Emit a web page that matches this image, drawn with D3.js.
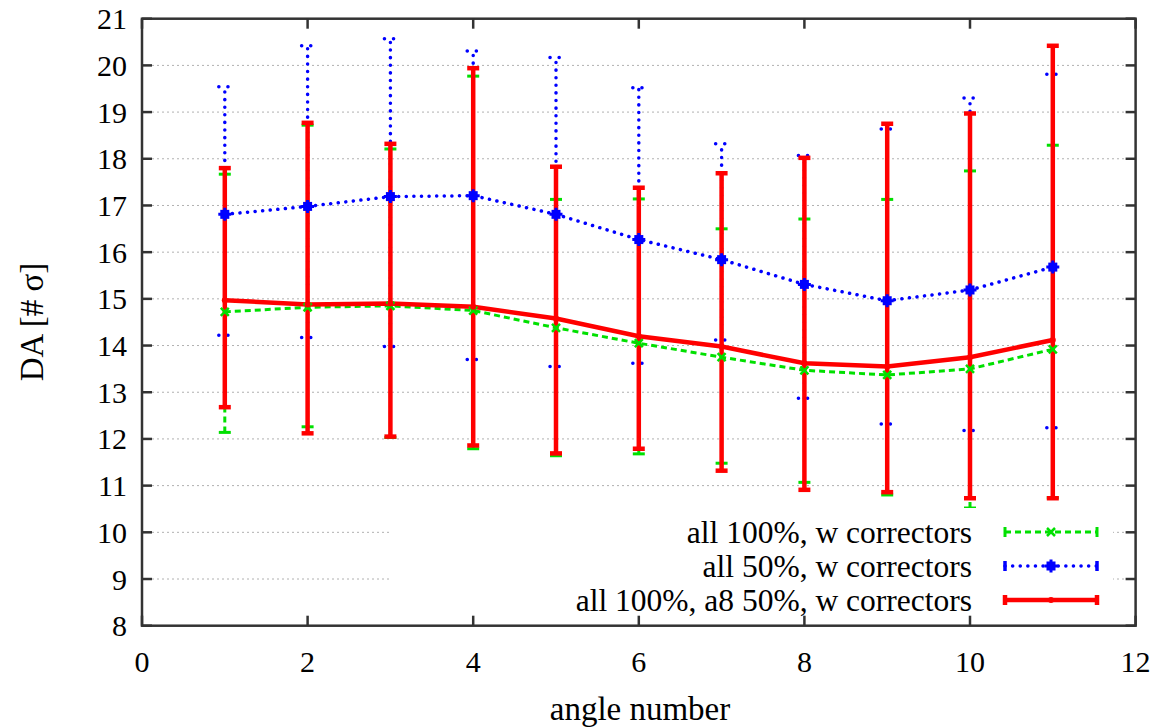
<!DOCTYPE html>
<html>
<head>
<meta charset="utf-8">
<script src="https://cdn.jsdelivr.net/npm/d3@7"></script>
<style>
  body { margin: 0; background: #fff; }
  text { font-family: "Liberation Serif", "DejaVu Serif", serif; fill: #000; }
</style>
</head>
<body>
<div id="chart"></div>
<script>
// data
var angles = [1, 2, 3, 4, 5, 6, 7, 8, 9, 10, 11];

var greenMean = [14.72, 14.82, 14.85, 14.75, 14.38, 14.05, 13.75, 13.47, 13.37, 13.5, 13.92];
var greenLow  = [12.14, 12.26, 12.03, 11.79, 11.64, 11.68, 11.48, 11.07, 10.8, 10.52, 10.74];
var greenHigh = [17.67, 18.72, 18.21, 19.77, 17.13, 17.14, 16.5, 16.71, 17.13, 17.74, 18.29];

var blueMean = [16.81, 16.98, 17.19, 17.21, 16.81, 16.27, 15.84, 15.31, 14.96, 15.19, 15.68];
var blueLow  = [14.22, 14.17, 13.98, 13.7, 13.55, 13.62, 14.12, 12.87, 12.32, 12.18, 12.24];
var blueHigh = [19.54, 20.42, 20.57, 20.31, 20.17, 19.52, 18.32, 18.07, 18.64, 19.3, 19.81];

var redMean = [14.97, 14.88, 14.9, 14.83, 14.58, 14.2, 13.98, 13.62, 13.55, 13.75, 14.12];
var redLow  = [12.68, 12.12, 12.05, 11.86, 11.69, 11.79, 11.32, 10.91, 10.86, 10.73, 10.73];
var redHigh = [17.8, 18.77, 18.32, 19.94, 17.83, 17.38, 17.69, 18.02, 18.75, 18.97, 20.42];

var seriesNames = ["all 100%, w correctors", "all 50%, w correctors", "all 100%, a8 50%, w correctors"];
var xTicks = [0, 2, 4, 6, 8, 10, 12];
var yTicks = [8, 9, 10, 11, 12, 13, 14, 15, 16, 17, 18, 19, 20, 21];

var drawChart = function() {

    const width = 1158, height = 727;
    const left = 142, right = 1135.6, top = 18.7, bottom = 625.7;
    const tickLen = 10;
    const tickFont = 30, keyFont = 31.5, titleFont = 33;

    var svg = d3.select("#chart").append("svg")
        .attr("width", width)
        .attr("height", height);

    var x = d3.scaleLinear().domain([0, 12]).range([left, right]);
    var y = d3.scaleLinear().domain([8, 21]).range([bottom, top]);

    // grid
    svg.append("g").selectAll("line")
        .data(yTicks.filter(d => d > 8 && d < 21))
        .join("line")
        .attr("x1", left).attr("x2", right)
        .attr("y1", d => y(d)).attr("y2", d => y(d))
        .attr("stroke", "#b0b0b0")
        .attr("stroke-width", 1)
        .attr("stroke-dasharray", "2,3");

    // series setup
    var series = [
        {name: seriesNames[0], mean: greenMean, low: greenLow, high: greenHigh,
         color: "#00e000", width: 3, dash: "6,4", cap: "butt", marker: "x"},
        {name: seriesNames[1], mean: blueMean, low: blueLow, high: blueHigh,
         color: "#0000ff", width: 3.5, dash: "0.1,7.5", cap: "round", marker: "box"},
        {name: seriesNames[2], mean: redMean, low: redLow, high: redHigh,
         color: "#ff0000", width: 4.5, dash: null, cap: "butt", marker: "dot"}
    ];

    var line = d3.line()
        .x(d => x(d.a))
        .y(d => y(d.v));

    var plot = svg.append("g");

    series.forEach(function(s) {
        var pts = angles.map((a, i) => ({a: a, v: s.mean[i], lo: s.low[i], hi: s.high[i]}));
        var g = plot.append("g");

        g.append("path")
            .datum(pts)
            .attr("d", line)
            .attr("fill", "none")
            .attr("stroke", s.color)
            .attr("stroke-width", s.width)
            .attr("stroke-linecap", s.cap)
            .attr("stroke-dasharray", s.dash);

        // error bars
        g.selectAll(".bar").data(pts).join("line")
            .attr("x1", d => x(d.a)).attr("x2", d => x(d.a))
            .attr("y1", d => y(d.lo)).attr("y2", d => y(d.hi))
            .attr("stroke", s.color)
            .attr("stroke-width", s.width)
            .attr("stroke-linecap", s.cap)
            .attr("stroke-dasharray", s.dash);

        // caps
        var caps = [];
        pts.forEach(d => { caps.push({a: d.a, v: d.lo}); caps.push({a: d.a, v: d.hi}); });
        g.selectAll(".cap").data(caps).join("line")
            .attr("x1", d => x(d.a) - 6).attr("x2", d => x(d.a) + 6)
            .attr("y1", d => y(d.v)).attr("y2", d => y(d.v))
            .attr("stroke", s.color)
            .attr("stroke-width", s.width)
            .attr("stroke-linecap", s.cap)
            .attr("stroke-dasharray", s.marker == "box" ? "0.1,9" : null);
        s.pts = pts;
    });

    function drawMarker(g, s, cx, cy) {
        if (s.marker == "x") {
            g.append("path")
                .attr("d", `M${cx-4},${cy-4}L${cx+4},${cy+4}M${cx-4},${cy+4}L${cx+4},${cy-4}`)
                .attr("stroke", s.color).attr("stroke-width", 2.5).attr("fill", "none");
        } else if (s.marker == "box") {
            g.append("rect")
                .attr("x", cx - 4.5).attr("y", cy - 4.5)
                .attr("width", 9).attr("height", 9)
                .attr("fill", s.color);
            g.append("path")
                .attr("d", `M${cx-6.5},${cy}H${cx+6.5}M${cx},${cy-6.5}V${cy+6.5}`)
                .attr("stroke", s.color).attr("stroke-width", 3);
        } else {
            g.append("circle").attr("cx", cx).attr("cy", cy).attr("r", 3).attr("fill", s.color);
        }
    }

    // markers on top
    series.forEach(function(s) {
        var g = plot.append("g");
        s.pts.forEach(d => drawMarker(g, s, x(d.a), y(d.v)));
    });

    // legend (opaque key)
    var legend = svg.append("g");
    legend.append("rect")
        .attr("x", 389).attr("y", 508)
        .attr("width", 724).attr("height", 112)
        .attr("fill", "#fff");
    var rowY = [532, 566, 600];
    series.forEach(function(s, i) {
        legend.append("text")
            .attr("x", 972).attr("y", rowY[i])
            .attr("dy", "0.35em")
            .attr("text-anchor", "end")
            .attr("font-size", keyFont)
            .text(s.name);
        var x1 = 1005, x2 = 1097, xm = (x1 + x2) / 2;
        legend.append("line")
            .attr("x1", x1).attr("x2", x2)
            .attr("y1", rowY[i]).attr("y2", rowY[i])
            .attr("stroke", s.color)
            .attr("stroke-width", s.width)
            .attr("stroke-linecap", s.cap)
            .attr("stroke-dasharray", s.dash);
        [x1, x2].forEach(function(xe) {
            legend.append("line")
                .attr("x1", xe).attr("x2", xe)
                .attr("y1", rowY[i] - 5).attr("y2", rowY[i] + 5)
                .attr("stroke", s.color)
                .attr("stroke-width", s.width);
        });
        drawMarker(legend, s, xm, rowY[i]);
    });

    // frame and ticks
    var axisColor = "#333";
    svg.append("rect")
        .attr("x", left).attr("y", top)
        .attr("width", right - left).attr("height", bottom - top)
        .attr("fill", "none")
        .attr("stroke", axisColor)
        .attr("stroke-width", 2.5);

    var ticks = svg.append("g").attr("stroke", axisColor).attr("stroke-width", 2.5);
    yTicks.forEach(function(t) {
        ticks.append("line").attr("x1", left).attr("x2", left + tickLen).attr("y1", y(t)).attr("y2", y(t));
        ticks.append("line").attr("x1", right).attr("x2", right - tickLen).attr("y1", y(t)).attr("y2", y(t));
    });
    xTicks.forEach(function(t) {
        ticks.append("line").attr("x1", x(t)).attr("x2", x(t)).attr("y1", bottom).attr("y2", bottom - tickLen);
        ticks.append("line").attr("x1", x(t)).attr("x2", x(t)).attr("y1", top).attr("y2", top + tickLen);
    });

    // tick labels
    svg.append("g").selectAll("text").data(yTicks).join("text")
        .attr("x", left - 15).attr("y", d => y(d))
        .attr("dy", "0.35em")
        .attr("text-anchor", "end")
        .attr("font-size", tickFont)
        .text(d => d);
    svg.append("g").selectAll("text").data(xTicks).join("text")
        .attr("x", d => x(d)).attr("y", 672)
        .attr("text-anchor", "middle")
        .attr("font-size", tickFont)
        .text(d => d);

    // axis titles
    svg.append("text")
        .attr("x", 640).attr("y", 720)
        .attr("text-anchor", "middle")
        .attr("font-size", titleFont)
        .text("angle number");
    svg.append("text")
        .attr("transform", "translate(43,322) rotate(-90)")
        .attr("text-anchor", "middle")
        .attr("font-size", titleFont)
        .text("DA [# σ]");
}

window.addEventListener("load", drawChart)
</script>
</body>
</html>
